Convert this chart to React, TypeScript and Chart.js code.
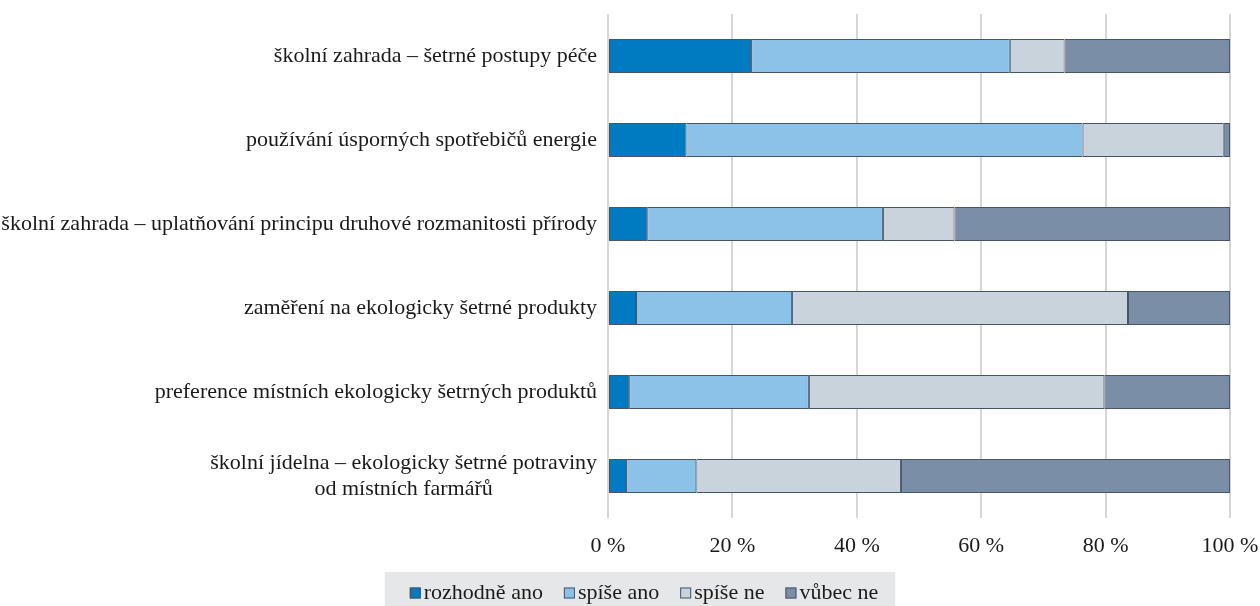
import React, { useEffect, useRef } from 'react';
import { Chart, registerables } from 'chart.js';

Chart.register(...registerables);

const categories: string[][] = [
  ['školní zahrada – šetrné postupy péče'],
  ['používání úsporných spotřebičů energie'],
  ['školní zahrada – uplatňování principu druhové rozmanitosti přírody'],
  ['zaměření na ekologicky šetrné produkty'],
  ['preference místních ekologicky šetrných produktů'],
  ['školní jídelna – ekologicky šetrné potraviny', 'od místních farmářů'],
];
const seriesNames = ['rozhodně ano', 'spíše ano', 'spíše ne', 'vůbec ne'];
const rozhodneAno = [23.0, 12.6, 6.3, 4.5, 3.4, 2.9];
const spiseAno = [41.6, 63.7, 37.9, 25.1, 28.9, 11.3];
const spiseNe = [8.8, 22.7, 11.5, 54.0, 47.5, 32.9];
const vubecNe = [26.6, 1.0, 44.3, 16.4, 20.2, 52.9];
const xTicks = [0, 20, 40, 60, 80, 100];

const seriesColors = ['#007BC2', '#8DC2E8', '#C9D3DC', '#7B8EA8'];
const FONT_FAMILY = '"Liberation Serif", "Times New Roman", serif';
const FONT_SIZE = 22;
const TEXT_COLOR = '#1a1a1a';

const customDraw = {
  id: 'customDraw',
  afterDraw(chart: any) {
    const ctx: CanvasRenderingContext2D = chart.ctx;
    const yScale = chart.scales.y;
    const area = chart.chartArea;
    ctx.save();
    ctx.font = `${FONT_SIZE}px ${FONT_FAMILY}`;
    ctx.fillStyle = TEXT_COLOR;
    ctx.textBaseline = 'middle';
    ctx.textAlign = 'center';
    const lineH = 26;
    categories.forEach((lines, i) => {
      const cy = yScale.getPixelForValue(i);
      const bw = Math.max(...lines.map((l) => ctx.measureText(l).width));
      const right = area.left - 11;
      const cx = right - bw / 2;
      lines.forEach((l, k) => {
        const ly = cy + (k - (lines.length - 1) / 2) * lineH;
        ctx.fillText(l, cx, ly);
      });
    });

    // legend
    const box = 11;
    const gapBoxText = 3;
    const itemGap = 21;
    const padL = 25;
    const padR = 17;
    const datasets = chart.data.datasets;
    const widths = datasets.map((d: any) => ctx.measureText(d.label).width);
    let total = 0;
    widths.forEach((w: number, i: number) => {
      total += box + gapBoxText + w + (i < widths.length - 1 ? itemGap : 0);
    });
    const bgW = total + padL + padR;
    const bgX = 640 - bgW / 2;
    const bgY = 572;
    ctx.fillStyle = '#E6E7E8';
    ctx.fillRect(bgX, bgY, bgW, 606 - bgY);
    let x = bgX + padL;
    const cy = 593;
    ctx.textAlign = 'left';
    datasets.forEach((d: any, i: number) => {
      ctx.fillStyle = d.backgroundColor;
      ctx.fillRect(x, cy - box / 2, box, box);
      ctx.strokeStyle = '#44546A';
      ctx.lineWidth = 1;
      ctx.strokeRect(x + 0.5, cy - box / 2 + 0.5, box - 1, box - 1);
      ctx.fillStyle = TEXT_COLOR;
      ctx.fillText(d.label, x + box + gapBoxText, cy);
      x += box + gapBoxText + widths[i] + itemGap;
    });
    ctx.restore();
  },
};

export default function App() {
  const ref = useRef<HTMLCanvasElement>(null);
  useEffect(() => {
    if (!ref.current) return;
    const values = [rozhodneAno, spiseAno, spiseNe, vubecNe];
    const chart = new Chart(ref.current, {
      type: 'bar',
      data: {
        labels: categories.map((c) => c.join(' ')),
        datasets: values.map((v, i) => ({
          label: seriesNames[i],
          data: v,
          backgroundColor: seriesColors[i],
          borderColor: '#44546A',
          borderWidth: 1,
          borderSkipped: false,
          categoryPercentage: 1,
          barPercentage: 0.405,
        })),
      },
      options: {
        indexAxis: 'y',
        animation: false,
        responsive: true,
        maintainAspectRatio: false,
        layout: { padding: { top: 14, right: 30, bottom: 0, left: 0 } },
        plugins: {
          legend: { display: false },
          tooltip: { enabled: false },
        },
        scales: {
          x: {
            stacked: true,
            min: 0,
            max: 100,
            afterBuildTicks: (s: any) => {
              s.ticks = xTicks.map((v) => ({ value: v }));
            },
            afterFit: (s: any) => {
              s.height = 88;
              s.paddingLeft = 0;
              s.paddingRight = 0;
            },
            grid: { color: '#D6D6D6', lineWidth: 2, drawTicks: false },
            border: { display: false },
            ticks: {
              padding: 15,
              color: TEXT_COLOR,
              font: { family: FONT_FAMILY, size: FONT_SIZE },
              callback: (v: any) => `${v} %`,
              maxRotation: 0,
            },
          },
          y: {
            stacked: true,
            afterFit: (s: any) => {
              s.width = 608;
            },
            grid: { display: false },
            border: { display: false },
            ticks: { display: false },
          },
        },
      },
      plugins: [customDraw],
    });
    return () => chart.destroy();
  }, []);
  return (
    <div style={{ position: 'fixed', left: 0, top: 0, width: 1260, height: 606, background: '#fff' }}>
      <canvas ref={ref} />
    </div>
  );
}
